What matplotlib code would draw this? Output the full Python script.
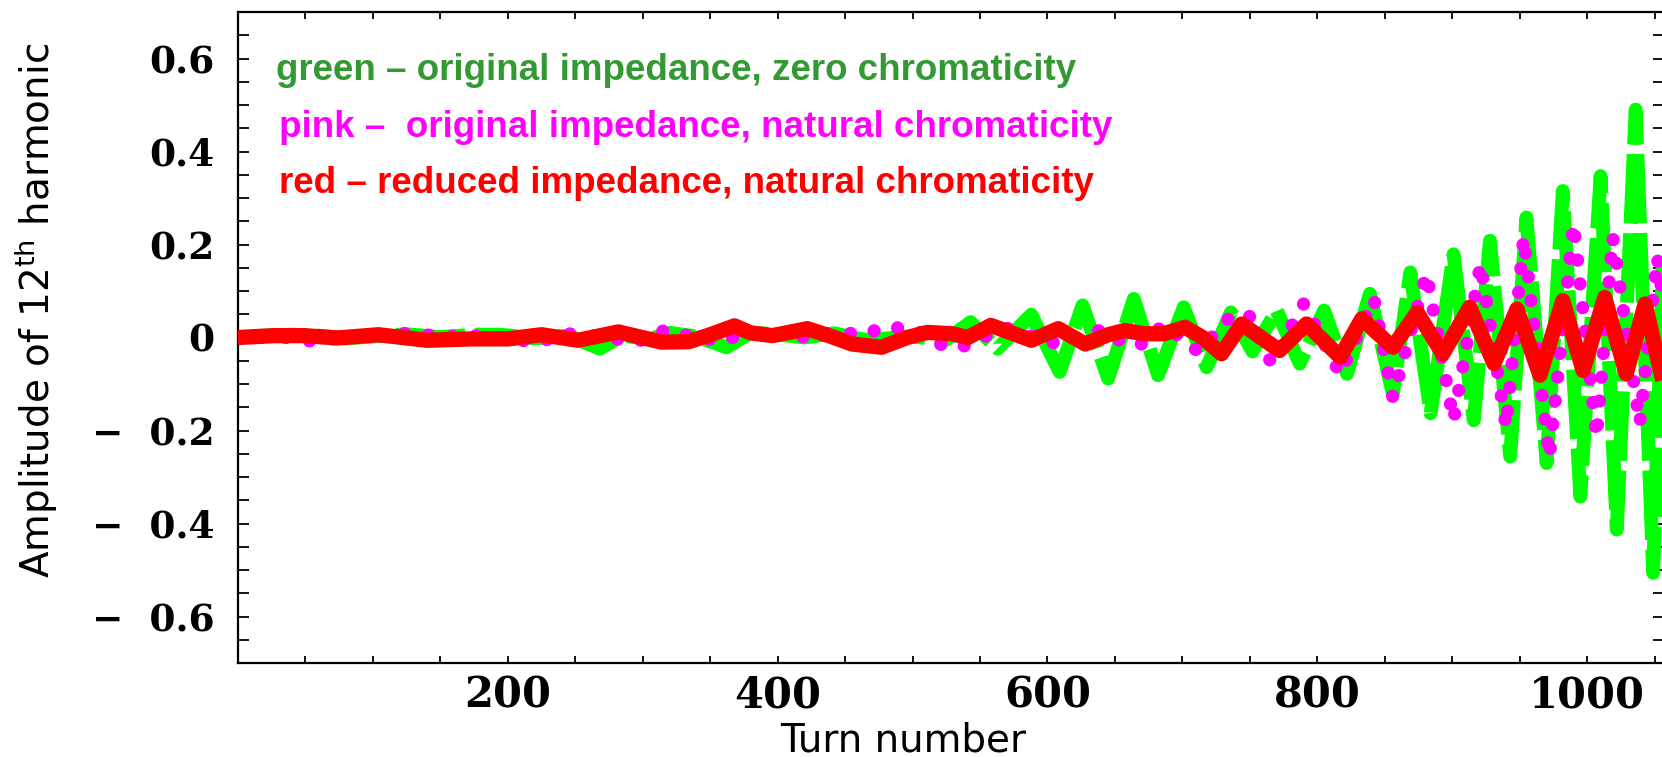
import matplotlib
matplotlib.use("Agg")
import matplotlib.pyplot as plt
from matplotlib.ticker import MultipleLocator

# ---------------- data ----------------
turns_green = [0, 20, 40, 60, 80, 100, 125, 150, 175, 195, 220, 245, 268, 285, 305, 320,
               340, 362, 380, 395, 420, 442, 465, 500, 525, 543, 563, 588, 609, 626, 645,
               664, 682, 701, 718, 736, 752, 770, 787, 805, 822, 839, 856, 869, 884, 901,
               916, 928, 943, 955, 970, 982, 995, 1010, 1022, 1036, 1049, 1060]
amp_green = [0.0, 0.004, 0.006, 0.004, -0.002, 0.002, 0.007, 0.001, 0.006, 0.006, -0.002,
             0.004, -0.024, 0.004, -0.004, 0.010, 0.002, -0.021, 0.010, 0.008, 0.0, 0.009,
             -0.005, 0.002, -0.005, 0.033, -0.024, 0.049, -0.074, 0.069, -0.088, 0.083,
             -0.081, 0.065, -0.064, 0.054, -0.030, 0.058, -0.056, 0.058, -0.078, 0.094,
             -0.121, 0.140, -0.163, 0.179, -0.178, 0.208, -0.256, 0.258, -0.270, 0.315,
             -0.342, 0.347, -0.413, 0.490, -0.506, 0.52]

turns_pink = [0, 30, 55, 80, 105, 128, 150, 175, 200, 222, 245, 270, 295, 316, 340, 360,
              375, 400, 422, 440, 462, 483, 502, 519, 536, 552, 568, 588, 608, 625, 642,
              657, 672, 686, 712, 734, 749, 766, 790, 817, 842, 856, 881, 901, 921, 940,
              953, 972, 990, 1007, 1019, 1039, 1052, 1060]
amp_pink = [0.0, 0.002, -0.008, 0.0, 0.003, 0.010, 0.002, 0.004, -0.003, -0.010, 0.008,
            0.002, -0.010, 0.015, 0.0, -0.008, 0.010, 0.005, 0.001, 0.010, 0.008, 0.022,
            0.018, -0.014, -0.021, 0.0, 0.022, 0.002, -0.014, 0.004, 0.018, -0.014, -0.014,
            0.029, -0.031, 0.040, 0.050, -0.056, 0.073, -0.079, 0.084, -0.129, 0.138,
            -0.179, 0.159, -0.193, 0.216, -0.258, 0.245, -0.215, 0.216, -0.186, 0.173, 0.0]

turns_red = [0, 27, 49, 74, 104, 140, 173, 200, 225, 252, 282, 314, 334, 350, 368, 380,
             396, 422, 440, 455, 477, 496, 511, 529, 541, 558, 575, 588, 608, 628, 645,
             657, 672, 686, 702, 715, 729, 744, 772, 792, 817, 833, 856, 874, 893, 913,
             931, 948, 965, 982, 997, 1013, 1029, 1043, 1056]
amp_red = [0.0, 0.004, 0.004, -0.001, 0.006, -0.006, -0.003, -0.003, 0.006, -0.006, 0.012,
           -0.010, -0.009, 0.006, 0.025, 0.010, 0.004, 0.019, 0.002, -0.014, -0.021, 0.0,
           0.011, 0.008, 0.0, 0.026, 0.008, -0.006, 0.019, -0.014, 0.006, 0.015, 0.008,
           0.008, 0.022, 0.0, -0.035, 0.029, -0.028, 0.029, -0.042, 0.040, -0.021, 0.054,
           -0.035, 0.065, -0.056, 0.061, -0.081, 0.079, -0.071, 0.086, -0.078, 0.072, -0.092]

x_ticks = [200, 400, 600, 800, 1000]
x_tick_labels = ["200", "400", "600", "800", "1000"]
y_ticks = [-0.6, -0.4, -0.2, 0.0, 0.2, 0.4, 0.6]
y_tick_labels = ["\u2212  0.6", "\u2212  0.4", "\u2212  0.2", "0", "0.2", "0.4", "0.6"]

legend_lines = [
    ("green \u2013 original impedance, zero chromaticity", "#339933"),
    ("pink \u2013  original impedance, natural chromaticity", "#ff00ff"),
    ("red \u2013 reduced impedance, natural chromaticity", "#ff0000"),
]

# ---------------- figure ----------------
W, H = 1662, 757
plt.rcParams["mathtext.fontset"] = "dejavusans"
fig = plt.figure(figsize=(W / 100, H / 100), dpi=100)
fig.patch.set_facecolor("white")

ax = fig.add_axes([238 / W, 1 - 663 / H, (1664 - 238) / W, (663 - 12) / H])
ax.set_xlim(0, 1057)
ax.set_ylim(-0.7, 0.7)

ax.plot(turns_green, amp_green, color="#00ff00", lw=10, dashes=(5, 0.7),
        dash_capstyle="butt", dash_joinstyle="round", zorder=2)
ax.plot(turns_pink, amp_pink, color="#ff00ff", lw=9.5, linestyle=(0, (0.01, 1.8)),
        dash_capstyle="round", zorder=3)
ax.plot(turns_red, amp_red, color="#ff0000", lw=11, solid_joinstyle="round",
        solid_capstyle="butt", zorder=4)

for s in ax.spines.values():
    s.set_linewidth(1.6)
    s.set_color("black")

ax.set_xticks(x_ticks)
ax.set_xticklabels(x_tick_labels)
ax.set_yticks(y_ticks)
ax.set_yticklabels(y_tick_labels)
ax.xaxis.set_minor_locator(MultipleLocator(50))
ax.yaxis.set_minor_locator(MultipleLocator(0.05))

ax.tick_params(axis="x", which="both", direction="in", top=True, bottom=True,
               length=5, width=1.3, pad=8)
ax.tick_params(axis="y", which="both", direction="in", left=True, right=True,
               length=8, width=1.3, pad=17)

for lab in ax.get_xticklabels():
    lab.set_fontfamily("DejaVu Serif")
    lab.set_fontweight("bold")
    lab.set_fontsize(30)
for lab in ax.get_yticklabels():
    lab.set_fontfamily("DejaVu Serif")
    lab.set_fontweight("bold")
    lab.set_fontsize(27)

# legend-like coloured texts
baselines = [80, 137, 193]
lefts = [276, 279, 279]
for (txt, col), yb, xl in zip(legend_lines, baselines, lefts):
    fig.text(xl / W, 1 - yb / H, txt, color=col, fontsize=26.5, fontweight="bold",
             family="Liberation Sans", ha="left", va="baseline")

fig.text(903 / W, 1 - 752 / H, "Turn number", fontsize=28, family="DejaVu Sans",
         ha="center", va="baseline")
fig.text(36 / W, 1 - 310 / H, r"Amplitude of 12$^{\mathrm{th}}$ harmonic", fontsize=28,
         family="DejaVu Sans", rotation=90, ha="center", va="center")

fig.savefig("out.png", dpi=100, facecolor="white")
